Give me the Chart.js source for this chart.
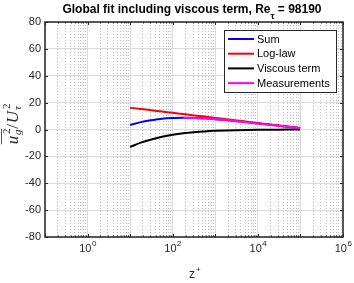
<!DOCTYPE html>
<html>
<head>
<meta charset="utf-8">
<script src="https://cdn.jsdelivr.net/npm/chart.js@4.4.1/dist/chart.umd.min.js"></script>
<style>
  body { margin: 0; background: #fff; }
</style>
</head>
<body>
<canvas id="fitChart" width="354" height="283"></canvas>
<script>
// z+ sample positions
var zPlus = [10, 17.8, 31.6, 56.2, 100, 178, 316, 562, 1000, 1778, 3162, 5623, 10000, 17783, 31623, 56234, 98190];
var sumVals = [3.4, 5.5, 6.9, 8.0, 8.5, 8.7, 8.6, 8.3, 7.7, 7.0, 6.2, 5.4, 4.5, 3.7, 2.8, 1.9, 1.05];
var logLawVals = [16.2, 15.3, 14.3, 13.4, 12.4, 11.5, 10.5, 9.6, 8.6, 7.7, 6.7, 5.8, 4.8, 3.9, 2.9, 2.0, 1.1];
var viscousVals = [-13.0, -9.8, -7.4, -5.4, -3.9, -2.8, -2.0, -1.4, -1.0, -0.7, -0.5, -0.35, -0.25, -0.18, -0.12, -0.08, -0.05];
var measZ = [178, 316, 562, 1000, 1778, 3162, 5623, 10000, 17783, 31623, 56234, 98190];
var measVals = [8.7, 8.6, 8.2, 7.7, 7.0, 6.2, 5.3, 4.5, 3.6, 2.7, 1.8, 1.0];

var seriesNames = ['Sum', 'Log-law', 'Viscous term', 'Measurements'];
var seriesColors = ['#0000ff', '#ff0000', '#000000', '#ff00ff'];

var yTicks = [-80, -60, -40, -20, 0, 20, 40, 60, 80];
var xDecades = [0.1, 1, 10, 100, 1000, 10000, 100000, 1000000];
var xLabelExps = [0, 2, 4, 6];

var titleMain = 'Global fit including viscous term, Re';
var titleSub = '\u03c4';
var titleEnd = ' = 98190';

function pts(xs, ys) {
    return xs.map(function(x, i) { return { x: x, y: ys[i] }; });
}

function isDecade(v) {
    var l = Math.log10(v);
    return Math.abs(l - Math.round(l)) < 1e-6;
}

// all x grid positions: decades plus 2..9 in between
var xGrid = [];
xDecades.forEach(function(d, i) {
    xGrid.push(d);
    if (i < xDecades.length - 1) {
        for (var k = 2; k <= 9; k++) xGrid.push(d * k);
    }
});

var textColor = '#262626';
var sans = "'Liberation Sans', Arial, sans-serif";
var serif = "'Liberation Serif', 'Times New Roman', serif";

var decorPlugin = {
    id: 'decor',
    afterDraw: function(chart) {
        var ctx = chart.ctx;
        var a = chart.chartArea;
        var xs = chart.scales.x, ys = chart.scales.y;
        ctx.save();

        // inner ticks
        ctx.strokeStyle = textColor;
        ctx.lineWidth = 1;
        xGrid.forEach(function(v) {
            var px = Math.round(xs.getPixelForValue(v)) + 0.5;
            var len = isDecade(v) ? 3 : 1.5;
            ctx.beginPath();
            ctx.moveTo(px, a.bottom); ctx.lineTo(px, a.bottom - len);
            ctx.moveTo(px, a.top); ctx.lineTo(px, a.top + len);
            ctx.stroke();
        });
        yTicks.forEach(function(v) {
            var py = Math.round(ys.getPixelForValue(v)) + 0.5;
            ctx.beginPath();
            ctx.moveTo(a.left, py); ctx.lineTo(a.left + 3, py);
            ctx.moveTo(a.right, py); ctx.lineTo(a.right - 3, py);
            ctx.stroke();
        });

        // axes box
        ctx.lineWidth = 1.5;
        ctx.strokeRect(a.left, a.top, a.right - a.left, a.bottom - a.top);

        // y tick labels
        ctx.fillStyle = textColor;
        ctx.font = '11px ' + sans;
        ctx.textAlign = 'right';
        ctx.textBaseline = 'middle';
        yTicks.forEach(function(v) {
            ctx.fillText(String(v), a.left - 4, ys.getPixelForValue(v));
        });

        // x tick labels 10^n
        ctx.textAlign = 'left';
        ctx.textBaseline = 'alphabetic';
        xLabelExps.forEach(function(e) {
            var px = xs.getPixelForValue(Math.pow(10, e));
            ctx.font = '11px ' + sans;
            var w1 = ctx.measureText('10').width;
            ctx.font = '8px ' + sans;
            var w2 = ctx.measureText(String(e)).width;
            var x0 = px - (w1 + w2) / 2;
            ctx.font = '11px ' + sans;
            ctx.fillText('10', x0, 252);
            ctx.font = '8px ' + sans;
            ctx.fillText(String(e), x0 + w1 + 0.5, 246);
        });

        // x axis label z+
        var cx = (a.left + a.right) / 2;
        ctx.font = '12px ' + sans;
        var wz = ctx.measureText('z').width;
        ctx.fillText('z', cx - wz / 2 - 2, 278);
        ctx.font = '8px ' + sans;
        ctx.fillText('+', cx + wz / 2 - 1, 272);

        // title with subscript tau
        ctx.font = 'bold 12px ' + sans;
        var t1 = ctx.measureText(titleMain).width;
        var t3 = ctx.measureText(titleEnd).width;
        ctx.font = 'bold 9px ' + sans;
        var t2 = ctx.measureText(titleSub).width;
        var tx = 192 - (t1 + t2 + t3) / 2;
        ctx.font = 'bold 12px ' + sans;
        ctx.fillStyle = '#000';
        ctx.fillText(titleMain, tx, 13);
        ctx.fillText(titleEnd, tx + t1 + t2, 13);
        ctx.font = 'bold 9px ' + sans;
        ctx.fillText(titleSub, tx + t1, 19);

        // y axis label: overline(u_g^2) / U_tau^2, rotated
        ctx.save();
        ctx.translate(18, 124);
        ctx.rotate(-Math.PI / 2);
        ctx.fillStyle = textColor;
        var big = 'italic 17px ' + serif, small = 'italic 11px ' + serif, smallUp = '11px ' + serif;
        var parts = [
            { t: 'u', f: big, dy: 0 },
            { t: 'g', f: small, dy: 3, stack: '2' },
            { t: '/', f: '17px ' + serif, dy: 0 },
            { t: 'U', f: big, dy: 0 },
            { t: '\u03c4', f: small, dy: 3, stack: '2' }
        ];
        var widths = parts.map(function(p) {
            ctx.font = p.f;
            var w = ctx.measureText(p.t).width;
            if (p.stack) { ctx.font = smallUp; w = Math.max(w, ctx.measureText(p.stack).width); }
            return w + 0.8;
        });
        var total = widths.reduce(function(s, w) { return s + w; }, 0);
        var px = -total / 2;
        var overStart = px, overEnd = px + widths[0] + widths[1];
        parts.forEach(function(p, i) {
            ctx.font = p.f;
            ctx.fillText(p.t, px, p.dy);
            if (p.stack) {
                ctx.font = smallUp;
                ctx.fillText(p.stack, px + 1, -8);
            }
            px += widths[i];
        });
        ctx.lineWidth = 0.8;
        ctx.beginPath();
        ctx.moveTo(overStart, -16.5);
        ctx.lineTo(overEnd, -16.5);
        ctx.stroke();
        ctx.restore();

        // legend box
        var lx = 224, ly = 30, lw = 112, lh = 62;
        ctx.fillStyle = '#fff';
        ctx.fillRect(lx, ly, lw, lh);
        ctx.strokeStyle = textColor;
        ctx.lineWidth = 1;
        ctx.strokeRect(lx + 0.5, ly + 0.5, lw, lh);
        ctx.font = '11px ' + sans;
        ctx.textBaseline = 'middle';
        seriesNames.forEach(function(name, i) {
            var ry = 39 + i * 14.7;
            ctx.strokeStyle = seriesColors[i];
            ctx.lineWidth = 2;
            ctx.beginPath();
            ctx.moveTo(228, ry); ctx.lineTo(254, ry);
            ctx.stroke();
            ctx.fillStyle = '#000';
            ctx.fillText(name, 257, ry + 0.5);
        });

        ctx.restore();
    }
};

new Chart(document.getElementById('fitChart'), {
    type: 'line',
    data: {
        datasets: [
            { label: seriesNames[0], data: pts(zPlus, sumVals), borderColor: seriesColors[0], order: 3 },
            { label: seriesNames[1], data: pts(zPlus, logLawVals), borderColor: seriesColors[1], order: 2 },
            { label: seriesNames[2], data: pts(zPlus, viscousVals), borderColor: seriesColors[2], order: 4 },
            { label: seriesNames[3], data: pts(measZ, measVals), borderColor: seriesColors[3], order: 1 }
        ]
    },
    options: {
        responsive: false,
        animation: false,
        devicePixelRatio: 1,
        layout: { padding: { left: 45, right: 11, top: 22, bottom: 46 } },
        elements: {
            line: { borderWidth: 2, tension: 0.4, cubicInterpolationMode: 'monotone', fill: false },
            point: { radius: 0 }
        },
        plugins: {
            legend: { display: false },
            title: { display: false },
            tooltip: { enabled: false }
        },
        scales: {
            x: {
                type: 'logarithmic',
                min: 0.1,
                max: 1000000,
                afterBuildTicks: function(scale) {
                    scale.ticks = xGrid.map(function(v) { return { value: v, major: isDecade(v) }; });
                },
                ticks: { display: false },
                grid: {
                    drawTicks: false,
                    lineWidth: 1,
                    color: function(c) {
                        return c.tick && !isDecade(c.tick.value) ? '#c0c0c0' : '#dadada';
                    }
                },
                border: {
                    display: false,
                    dash: function(c) {
                        return c.tick && !isDecade(c.tick.value) ? [1, 2] : [];
                    }
                }
            },
            y: {
                type: 'linear',
                min: -80,
                max: 80,
                afterBuildTicks: function(scale) {
                    scale.ticks = yTicks.map(function(v) { return { value: v }; });
                },
                ticks: { display: false },
                grid: { drawTicks: false, color: '#dadada', lineWidth: 1 },
                border: { display: false }
            }
        }
    },
    plugins: [decorPlugin]
});
</script>
</body>
</html>
